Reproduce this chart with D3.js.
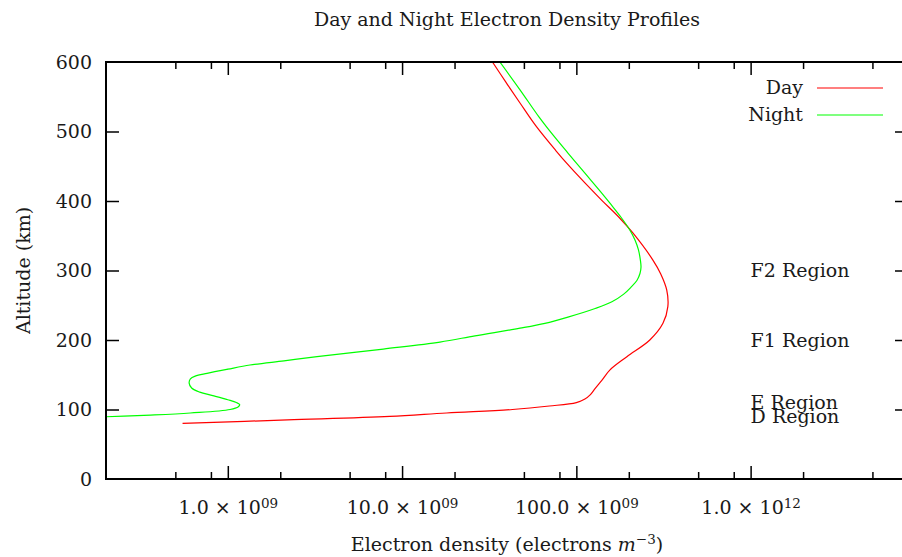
<!DOCTYPE html>
<html>
<head>
<meta charset="utf-8">
<script src="https://cdn.jsdelivr.net/npm/d3@7"></script>
<style>
body { margin: 0; background: #fff; }
svg { display: block; }
text { font-family: "DejaVu Serif", serif; fill: #1a1a1a; }
.axis path.domain { display: none; }
.axis line { stroke: #000; stroke-width: 1.5; }
</style>
</head>
<body>
<script>
// day profile (altitude km, electron density m^-3)
var dayAlt = [80, 85, 90, 95, 100, 105, 110, 115, 121, 130, 142, 157, 176, 200, 224, 248, 272, 295, 315, 354, 377, 401, 426, 449, 473, 508, 541, 571, 600];
var dayDensity = [5.5e8, 2.2e9, 8.5e9, 1.8e10, 4.3e10, 7.0e10, 1.0e11, 1.12e11, 1.2e11, 1.28e11, 1.4e11, 1.56e11, 1.95e11, 2.64e11, 3.14e11, 3.35e11, 3.3e11, 3.05e11, 2.75e11, 2.11e11, 1.75e11, 1.4e11, 1.12e11, 9.2e10, 7.6e10, 5.86e10, 4.75e10, 3.94e10, 3.3e10];

// night profile
var nightAlt = [88.7, 92, 95, 100, 104, 107, 110, 114, 120, 125, 131, 138, 144, 148, 152, 158, 164, 170, 176, 187, 197, 206, 217, 224, 233, 245, 255, 266, 276, 286, 296, 305, 315, 330, 344, 358, 377, 395, 416, 440, 469, 495, 521, 560, 600];
var nightDensity = [1.6e8, 3.6e8, 6.1e8, 1.03e9, 1.15e9, 1.17e9, 1.12e9, 1.0e9, 8.2e8, 6.9e8, 6.2e8, 6.0e8, 6.1e8, 6.5e8, 7.6e8, 1.0e9, 1.34e9, 2.1e9, 3.25e9, 7.8e9, 1.65e10, 2.62e10, 4.75e10, 6.6e10, 8.95e10, 1.27e11, 1.6e11, 1.87e11, 2.06e11, 2.23e11, 2.32e11, 2.35e11, 2.33e11, 2.27e11, 2.17e11, 2.03e11, 1.8e11, 1.58e11, 1.35e11, 1.12e11, 8.95e10, 7.34e10, 6.1e10, 4.75e10, 3.64e10];

// ticks
var majorTicks = [1e9, 1e10, 1e11, 1e12];
var majorMantissa = ["1.0", "10.0", "100.0", "1.0"];
var majorExponent = ["09", "09", "09", "12"];
var minorTicks = [5e8, 8e8, 2e9, 5e9, 8e9, 2e10, 5e10, 8e10, 2e11, 5e11, 8e11, 2e12, 5e12];
var altTicks = [0, 100, 200, 300, 400, 500, 600];

// region labels
var regionNames = ["F2 Region", "F1 Region", "E Region", "D Region"];
var regionAlt = [300, 200, 110, 90];

var seriesNames = ["Day", "Night"];
var seriesColors = ["#ff0000", "#00ff00"];

var W = 902, H = 557;
var pLeft = 106, pRight = 908, pTop = 62, pBottom = 479;
var fs = 19;

var x = d3.scaleLog().domain([2e8, 8e12]).range([pLeft, pRight]);
var y = d3.scaleLinear().domain([0, 600]).range([pBottom, pTop]);

var svg = d3.select("body").append("svg")
    .attr("width", W)
    .attr("height", H);

svg.append("defs").append("clipPath").attr("id", "clip")
  .append("rect")
    .attr("x", pLeft).attr("y", pTop)
    .attr("width", pRight - pLeft).attr("height", pBottom - pTop);

// curves
var line = d3.line()
    .x(function(d) { return x(d[0]); })
    .y(function(d) { return y(d[1]); })
    .curve(d3.curveCatmullRom.alpha(0.5));

var series = [
  d3.zip(dayDensity, dayAlt),
  d3.zip(nightDensity, nightAlt)
];

svg.append("g").attr("clip-path", "url(#clip)")
  .selectAll("path")
  .data(series)
  .enter().append("path")
    .attr("d", line)
    .attr("fill", "none")
    .attr("stroke", function(d, i) { return seriesColors[i]; })
    .attr("stroke-width", 1.2);

// minor ticks, bottom and top
svg.append("g").attr("class", "axis")
    .attr("transform", "translate(0," + pBottom + ")")
    .call(d3.axisBottom(x).tickValues(minorTicks).tickSize(-7).tickFormat(""));
svg.append("g").attr("class", "axis")
    .attr("transform", "translate(0," + pTop + ")")
    .call(d3.axisTop(x).tickValues(minorTicks).tickSize(-7).tickFormat(""));

// major ticks
var xAxis = svg.append("g").attr("class", "axis")
    .attr("transform", "translate(0," + pBottom + ")")
    .call(d3.axisBottom(x).tickValues(majorTicks).tickSize(-13).tickPadding(22));
svg.append("g").attr("class", "axis")
    .attr("transform", "translate(0," + pTop + ")")
    .call(d3.axisTop(x).tickValues(majorTicks).tickSize(-13).tickFormat(""));

xAxis.selectAll(".tick text")
    .text(null)
    .attr("font-size", fs)
    .attr("font-family", null)
    .attr("fill", null)
    .each(function(d, i) {
      var t = d3.select(this);
      t.append("tspan").text(majorMantissa[i] + " \u00d7 10");
      t.append("tspan").attr("font-size", 13.5).attr("dy", "-0.5em").text(majorExponent[i]);
    });

var yAxis = svg.append("g").attr("class", "axis")
    .attr("transform", "translate(" + pLeft + ",0)")
    .call(d3.axisLeft(y).tickValues(altTicks).tickSize(-13).tickPadding(14));
yAxis.selectAll(".tick text").attr("font-size", fs).attr("font-family", null).attr("fill", null);
yAxis.selectAll(".tick").filter(function(d) { return d === 0 || d === 600; }).select("line").remove();

var yAxisR = svg.append("g").attr("class", "axis")
    .attr("transform", "translate(" + pRight + ",0)")
    .call(d3.axisRight(y).tickValues(altTicks).tickSize(-13).tickFormat(""));
yAxisR.selectAll(".tick").filter(function(d) { return d === 0 || d === 600; }).select("line").remove();

// frame
svg.append("rect")
    .attr("x", pLeft).attr("y", pTop)
    .attr("width", pRight - pLeft).attr("height", pBottom - pTop)
    .attr("fill", "none")
    .attr("stroke", "#000")
    .attr("stroke-width", 2);

// region labels
svg.selectAll(".region")
  .data(regionNames)
  .enter().append("text")
    .attr("class", "region")
    .attr("x", x(1e12))
    .attr("y", function(d, i) { return y(regionAlt[i]); })
    .attr("dy", "0.35em")
    .attr("font-size", fs)
    .text(function(d) { return d; });

// legend
var legend = svg.selectAll(".legend")
  .data(seriesNames)
  .enter().append("g")
    .attr("class", "legend")
    .attr("transform", function(d, i) { return "translate(0," + (88 + i * 27) + ")"; });
legend.append("text")
    .attr("x", 803)
    .attr("dy", "0.33em")
    .attr("text-anchor", "end")
    .attr("font-size", fs)
    .text(function(d) { return d; });
legend.append("line")
    .attr("x1", 817).attr("x2", 883)
    .attr("stroke", function(d, i) { return seriesColors[i]; })
    .attr("stroke-width", 1.2);

// titles
svg.append("text")
    .attr("x", (pLeft + pRight) / 2)
    .attr("y", 26)
    .attr("text-anchor", "middle")
    .attr("font-size", fs)
    .text("Day and Night Electron Density Profiles");

var xl = svg.append("text")
    .attr("x", (pLeft + pRight) / 2)
    .attr("y", 551)
    .attr("text-anchor", "middle")
    .attr("font-size", fs);
xl.append("tspan").text("Electron density (electrons ");
xl.append("tspan").attr("font-style", "italic").text("m");
xl.append("tspan").attr("font-size", 13.5).attr("dy", "-0.55em").text("\u22123");
xl.append("tspan").attr("dy", "0.4em").text(")");

svg.append("text")
    .attr("transform", "translate(30," + ((pTop + pBottom) / 2) + ") rotate(-90)")
    .attr("text-anchor", "middle")
    .attr("font-size", fs)
    .text("Altitude (km)");
</script>
</body>
</html>
